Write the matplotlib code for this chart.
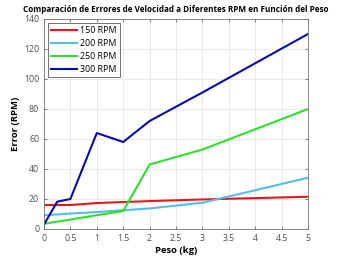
import matplotlib
matplotlib.use("Agg")
import matplotlib.pyplot as plt

peso = [0, 0.25, 0.5, 1, 1.5, 2, 3, 5]
err_150 = [16, 16, 16, 17.3, 18, 18.6, 19.7, 21.5]
err_200 = [9.2, 9.7, 10.3, 11.3, 12.5, 13.7, 17.5, 34.2]
err_250 = [3.5, 4.9, 6.3, 9.2, 12, 43, 53, 80]
err_300 = [3, 18.2, 20, 64, 58, 72, 91, 130]
labels = ["150 RPM", "200 RPM", "250 RPM", "300 RPM"]
colors = ["#e01a1a", "#55bde6", "#2ee02e", "#0a0aa8"]

plt.rcParams["font.family"] = ["Open Sans", "DejaVu Sans"]

fig = plt.figure(figsize=(3.41, 2.56), dpi=100)
ax = fig.add_axes([44/341, 1-229/256, 264/341, 210/256])

for y, lab, c in zip([err_150, err_200, err_250, err_300], labels, colors):
    ax.plot(peso, y, color=c, lw=1.5, label=lab)

ax.set_xlim(0, 5)
ax.set_ylim(0, 140)
ax.set_xticks([0, 0.5, 1, 1.5, 2, 2.5, 3, 3.5, 4, 4.5, 5])
ax.set_xticklabels(["0", "0.5", "1", "1.5", "2", "2.5", "3", "3.5", "4", "4.5", "5"])
ax.set_yticks(range(0, 141, 20))
ax.grid(True, color="#e6e6e6", lw=0.6)
ax.tick_params(labelsize=6.3, colors="#4d4d4d", length=2, width=0.5, direction="in",
               top=True, right=True)
for s in ax.spines.values():
    s.set_color("#777777")
    s.set_linewidth(0.6)

ax.set_xlabel("Peso (kg)", fontsize=6.8, fontweight="bold", labelpad=2)
ax.set_ylabel("Error (RPM)", fontsize=6.8, fontweight="bold", labelpad=3)
ax.set_title("Comparación de Errores de Velocidad a Diferentes RPM en Función del Peso",
             fontsize=5.9, fontweight="bold", pad=5)

leg = ax.legend(loc="upper left", fontsize=6.4, frameon=True, fancybox=False,
                handlelength=3, borderpad=0.35, labelspacing=0.45, handletextpad=0.3,
                borderaxespad=0.4)
leg.get_frame().set_edgecolor("#333333")
leg.get_frame().set_linewidth(0.6)

fig.savefig("out.png", dpi=100)
